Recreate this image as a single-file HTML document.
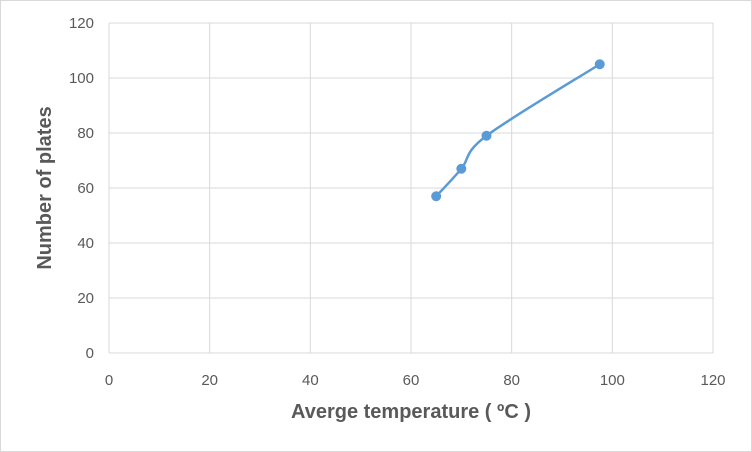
<!DOCTYPE html>
<html><head><meta charset="utf-8"><style>
body{margin:0;background:#fff;}
svg{display:block;font-family:"Liberation Sans",sans-serif;}
</style></head><body>
<svg id="c" width="752" height="452">
<rect x="0.5" y="0.5" width="751" height="451" fill="#fff" stroke="#d9d9d9"/>
</svg>
<script>
const xTicks=[0,20,40,60,80,100,120];
const yTicks=[0,20,40,60,80,100,120];
const temps=[65,70,75,97.5];
const plates=[57,67,79,105];
const NS="http://www.w3.org/2000/svg";
const svg=document.getElementById('c');
const X=v=>109+v*(713-109)/120;
const Y=v=>353-v*(353-23)/120;
function mk(t,a){const e=document.createElementNS(NS,t);for(const k in a)e.setAttribute(k,a[k]);svg.appendChild(e);return e;}
xTicks.forEach(t=>{
 const l=mk('line',{x1:X(t),x2:X(t),y1:Y(0),y2:Y(120),stroke:'#d9d9d9'});
 
 
 const tx=mk('text',{x:X(t),y:385,'text-anchor':'middle','font-size':15,fill:'#595959'});tx.textContent=t;
 
 
});
yTicks.forEach(t=>{
 const l=mk('line',{x1:X(0),x2:X(120),y1:Y(t),y2:Y(t),stroke:'#d9d9d9'});
 
 
 const tx=mk('text',{x:94,y:Y(t)+5,'text-anchor':'end','font-size':15,fill:'#595959'});tx.textContent=t;
 
 
});
const pts=temps.map((t,i)=>[X(t),Y(plates[i])]);
let d=`M${pts[0][0]},${pts[0][1]}`;
for(let i=0;i<pts.length-1;i++){
 const p0=pts[Math.max(0,i-1)],p1=pts[i],p2=pts[i+1],p3=pts[Math.min(pts.length-1,i+2)];
 const k=1/6;
 d+=` C${p1[0]+(p2[0]-p0[0])*k},${p1[1]+(p2[1]-p0[1])*k} ${p2[0]-(p3[0]-p1[0])*k},${p2[1]-(p3[1]-p1[1])*k} ${p2[0]},${p2[1]}`;
}
const line=mk('path',{d:d,fill:'none',stroke:'#5b9bd5','stroke-width':2.5});


pts.forEach(p=>{
 const c=mk('circle',{cx:p[0],cy:p[1],r:5,fill:'#5b9bd5'});
 
 
});
const xt=mk('text',{x:411,y:418,'text-anchor':'middle','font-size':20,'font-weight':'bold',fill:'#595959'});
xt.textContent='Averge temperature ( ºC )';


const yt=mk('text',{x:0,y:0,transform:'translate(51,188) rotate(-90)','text-anchor':'middle','font-size':20,'font-weight':'bold',fill:'#595959'});
yt.textContent='Number of plates';


</script>
</body></html>
